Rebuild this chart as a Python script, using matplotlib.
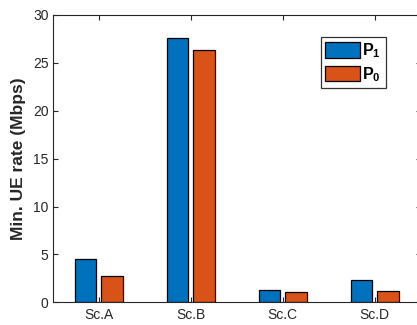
import matplotlib
matplotlib.use("Agg")
import matplotlib.pyplot as plt
import numpy as np

plt.rcParams['font.family'] = ['Liberation Sans', 'DejaVu Sans']
plt.rcParams['mathtext.fontset'] = 'custom'
plt.rcParams['mathtext.rm'] = 'Liberation Sans'
plt.rcParams['mathtext.bf'] = 'Liberation Sans:bold'

scenarios = ['Sc.A', 'Sc.B', 'Sc.C', 'Sc.D']
rate_p1 = [4.55, 27.55, 1.25, 2.36]
rate_p0 = [2.71, 26.37, 1.04, 1.15]
series_labels = [r'$\mathbf{P_1}$', r'$\mathbf{P_0}$']

blue = '#0072BD'
orange = '#D95319'
axis_col = '#262626'

fig = plt.figure(figsize=(4.17, 3.25), dpi=100)
ax = fig.add_axes([52.8 / 417, 1 - 302.3 / 325, 368 / 417, 287.3 / 325])

x = np.arange(1, len(scenarios) + 1)
w = 0.232
off = 0.143
ax.bar(x - off, rate_p1, w, color=blue, edgecolor='black', linewidth=0.9,
       label=series_labels[0])
ax.bar(x + off, rate_p0, w, color=orange, edgecolor='black', linewidth=0.9,
       label=series_labels[1])

ax.set_xlim(0.5, 4.5)
ax.set_ylim(0, 30)
ax.set_xticks(x)
ax.set_xticklabels(scenarios)
ax.set_yticks(np.arange(0, 31, 5))
ax.tick_params(direction='in', length=3.5, width=0.8, colors=axis_col,
               labelsize=10, top=True, right=True, pad=3)
ax.tick_params(axis='x', pad=4)
for s in ax.spines.values():
    s.set_color(axis_col)
    s.set_linewidth(0.8)

ax.set_ylabel('Min. UE rate (Mbps)', fontsize=12.5, fontweight='bold',
              color=axis_col, labelpad=5)

leg = ax.legend(loc='upper left', bbox_to_anchor=((320.7 - 52.8) / 368, 1 - (36.7 - 15) / 287.3),
                fontsize=11.5, frameon=True, fancybox=False, edgecolor='black',
                handlelength=2.15, handleheight=1.15, handletextpad=0.15,
                borderpad=0.3, labelspacing=0.3, borderaxespad=0)
leg.get_frame().set_linewidth(0.9)

fig.savefig('out.png', dpi=100)
